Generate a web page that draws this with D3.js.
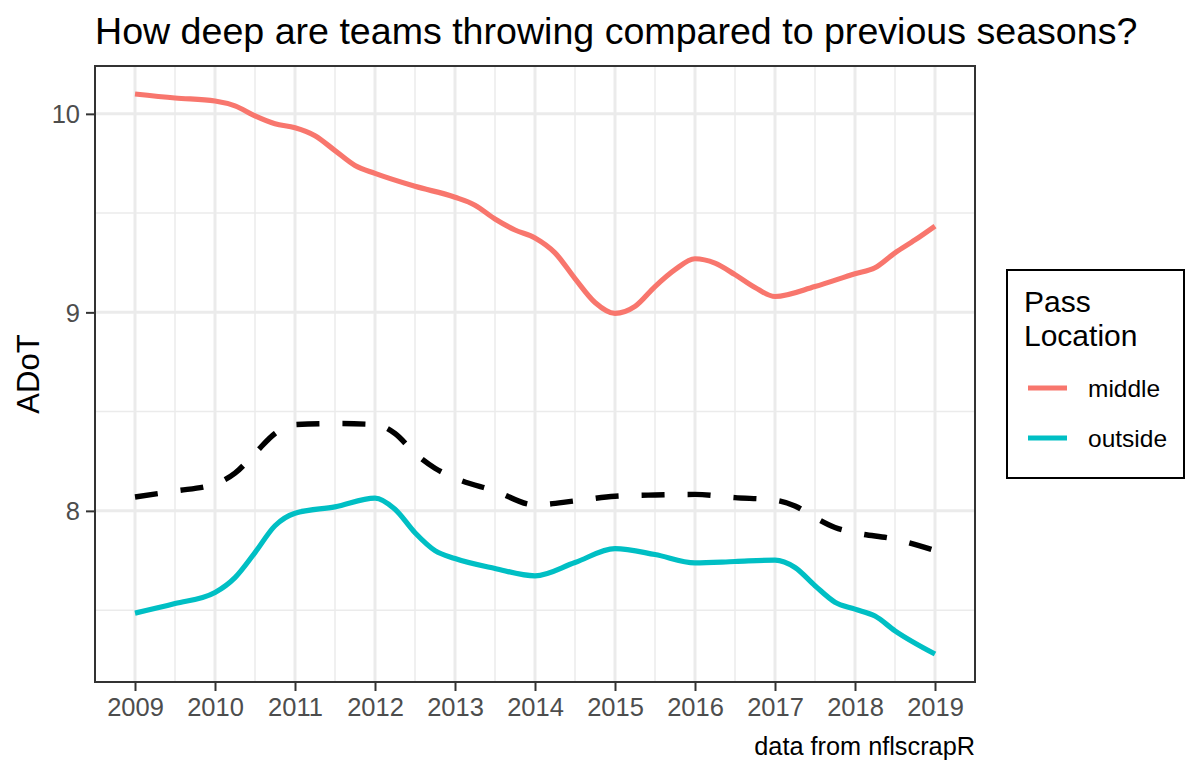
<!DOCTYPE html>
<html>
<head>
<meta charset="utf-8">
<script src="https://cdn.jsdelivr.net/npm/d3@7"></script>
<style>
  html, body { margin: 0; padding: 0; background: #fff; }
  svg { display: block; }
  text { font-family: "Liberation Sans", Arial, Helvetica, sans-serif; }
</style>
</head>
<body>
<svg id="chart" width="1200" height="775"></svg>
<script>
// ---- data ----
const yearTicks = [2009, 2010, 2011, 2012, 2013, 2014, 2015, 2016, 2017, 2018, 2019];
const yTicks = [8, 9, 10];

const middleX = [2009, 2009.5, 2010, 2010.25, 2010.5, 2010.75, 2011, 2011.25, 2011.5, 2011.75, 2012, 2012.5, 2013, 2013.25, 2013.5, 2013.75, 2014, 2014.25, 2014.5, 2014.75, 2015, 2015.25, 2015.5, 2015.75, 2016, 2016.25, 2016.5, 2016.75, 2017, 2017.5, 2018, 2018.25, 2018.5, 2018.75, 2019];
const middleY = [10.10, 10.08, 10.065, 10.04, 9.99, 9.95, 9.93, 9.89, 9.815, 9.74, 9.70, 9.635, 9.58, 9.54, 9.47, 9.415, 9.375, 9.30, 9.17, 9.05, 8.995, 9.03, 9.13, 9.215, 9.27, 9.248, 9.19, 9.125, 9.08, 9.13, 9.195, 9.225, 9.30, 9.365, 9.435];

const outsideX = [2009, 2009.5, 2010, 2010.25, 2010.5, 2010.75, 2011, 2011.5, 2012, 2012.25, 2012.5, 2012.75, 2013, 2013.5, 2014, 2014.5, 2015, 2015.5, 2016, 2016.5, 2017, 2017.25, 2017.5, 2017.75, 2018, 2018.25, 2018.5, 2019];
const outsideY = [7.485, 7.533, 7.589, 7.664, 7.79, 7.925, 7.988, 8.02, 8.064, 8.008, 7.89, 7.80, 7.76, 7.71, 7.673, 7.74, 7.81, 7.78, 7.738, 7.745, 7.752, 7.715, 7.623, 7.54, 7.505, 7.47, 7.396, 7.279];

const overallX = [2009, 2009.5, 2010, 2010.25, 2010.5, 2010.75, 2011, 2011.5, 2012, 2012.25, 2012.5, 2012.75, 2013, 2013.5, 2014, 2014.5, 2015, 2015.5, 2016, 2016.5, 2017, 2017.25, 2017.5, 2017.75, 2018, 2018.5, 2019];
const overallY = [8.07, 8.10, 8.135, 8.19, 8.29, 8.39, 8.435, 8.44, 8.435, 8.39, 8.29, 8.215, 8.165, 8.10, 8.03, 8.05, 8.074, 8.08, 8.083, 8.067, 8.054, 8.025, 7.966, 7.916, 7.89, 7.857, 7.80];

const seriesNames = ["middle", "outside"];
const seriesColors = ["#F8766D", "#00BFC4"];

const titleText = "How deep are teams throwing compared to previous seasons?";
const yTitle = "ADoT";
const legendTitle = ["Pass", "Location"];
const captionText = "data from nflscrapR";

// ---- layout ----
const svg = d3.select("#chart");
const P = { left: 95, right: 975, top: 66, bottom: 682 };

const xMin = d3.min(yearTicks), xMax = d3.max(yearTicks);
const xPad = (xMax - xMin) * 0.05;
const x = d3.scaleLinear().domain([xMin - xPad, xMax + xPad]).range([P.left, P.right]);

const allY = middleY.concat(outsideY, overallY);
const yLo = d3.min(allY), yHi = d3.max(allY);
const yPad = (yHi - yLo) * 0.05;
const y = d3.scaleLinear().domain([yLo - yPad, yHi + yPad]).range([P.bottom, P.top]);

svg.append("rect").attr("width", 1200).attr("height", 775).attr("fill", "#fff");

// grid
const grid = svg.append("g");
const xMinor = d3.range(xMin - 0.5, xMax + 1, 1).filter(v => v > x.domain()[0] && v < x.domain()[1]);
const yMinor = d3.range(7.5, 10.5, 1).filter(v => v > y.domain()[0] && v < y.domain()[1]);
grid.selectAll(".xminor").data(xMinor).join("line")
  .attr("x1", d => x(d)).attr("x2", d => x(d)).attr("y1", P.top).attr("y2", P.bottom)
  .attr("stroke", "#EBEBEB").attr("stroke-width", 1.5);
grid.selectAll(".yminor").data(yMinor).join("line")
  .attr("y1", d => y(d)).attr("y2", d => y(d)).attr("x1", P.left).attr("x2", P.right)
  .attr("stroke", "#EBEBEB").attr("stroke-width", 1.5);
grid.selectAll(".xmajor").data(yearTicks).join("line")
  .attr("x1", d => x(d)).attr("x2", d => x(d)).attr("y1", P.top).attr("y2", P.bottom)
  .attr("stroke", "#EBEBEB").attr("stroke-width", 3);
grid.selectAll(".ymajor").data(yTicks).join("line")
  .attr("y1", d => y(d)).attr("y2", d => y(d)).attr("x1", P.left).attr("x2", P.right)
  .attr("stroke", "#EBEBEB").attr("stroke-width", 3);

// lines
const line = d3.line().x(d => x(d[0])).y(d => y(d[1])).curve(d3.curveMonotoneX);
const zip = (a, b) => a.map((v, i) => [v, b[i]]);

svg.append("path").datum(zip(overallX, overallY))
  .attr("d", line).attr("fill", "none").attr("stroke", "#000")
  .attr("stroke-width", 5.4).attr("stroke-dasharray", "23,23");
svg.append("path").datum(zip(middleX, middleY))
  .attr("d", line).attr("fill", "none").attr("stroke", seriesColors[0])
  .attr("stroke-width", 5.2).attr("stroke-linecap", "butt");
svg.append("path").datum(zip(outsideX, outsideY))
  .attr("d", line).attr("fill", "none").attr("stroke", seriesColors[1])
  .attr("stroke-width", 5.2).attr("stroke-linecap", "butt");

// panel border
svg.append("rect").attr("x", P.left).attr("y", P.top)
  .attr("width", P.right - P.left).attr("height", P.bottom - P.top)
  .attr("fill", "none").attr("stroke", "#333333").attr("stroke-width", 2);

// axes
const xAxis = svg.append("g").attr("transform", `translate(0,${P.bottom})`)
  .call(d3.axisBottom(x).tickValues(yearTicks).tickFormat(d3.format("d")).tickSize(9).tickPadding(8));
const yAxis = svg.append("g").attr("transform", `translate(${P.left},0)`)
  .call(d3.axisLeft(y).tickValues(yTicks).tickFormat(d3.format("d")).tickSize(9).tickPadding(6));
[xAxis, yAxis].forEach(g => {
  g.select(".domain").remove();
  g.selectAll(".tick line").attr("stroke", "#333333").attr("stroke-width", 2);
  g.selectAll(".tick text").attr("fill", "#4D4D4D").attr("font-size", 25.5)
    .attr("font-family", "Liberation Sans, Arial, sans-serif");
});
xAxis.selectAll(".tick text").attr("dy", null).attr("y", 34);
yAxis.selectAll(".tick text").attr("dy", "0.35em");

// title
svg.append("text").attr("x", 95).attr("y", 44).attr("font-size", 37.6)
  .attr("fill", "#000").text(titleText);

// y title
svg.append("text").attr("transform", `translate(39,${(P.top + P.bottom) / 2}) rotate(-90)`)
  .attr("text-anchor", "middle").attr("font-size", 31).attr("fill", "#000").text(yTitle);

// caption
svg.append("text").attr("x", P.right).attr("y", 755).attr("text-anchor", "end")
  .attr("font-size", 25.3).attr("fill", "#000").text(captionText);

// legend
const lg = svg.append("g");
lg.append("rect").attr("x", 1007).attr("y", 270).attr("width", 177).attr("height", 208)
  .attr("fill", "#fff").attr("stroke", "#000").attr("stroke-width", 2);
lg.selectAll(".lt").data(legendTitle).join("text")
  .attr("x", 1024).attr("y", (d, i) => 312 + i * 34).attr("font-size", 30).attr("fill", "#000")
  .text(d => d);
seriesNames.forEach((name, i) => {
  const cy = 388 + i * 50;
  lg.append("line").attr("x1", 1028).attr("x2", 1067).attr("y1", cy).attr("y2", cy)
    .attr("stroke", seriesColors[i]).attr("stroke-width", 5.2);
  lg.append("text").attr("x", 1088).attr("y", cy).attr("dy", "0.35em")
    .attr("font-size", 24.5).attr("fill", "#000").text(name);
});
</script>
</body>
</html>
